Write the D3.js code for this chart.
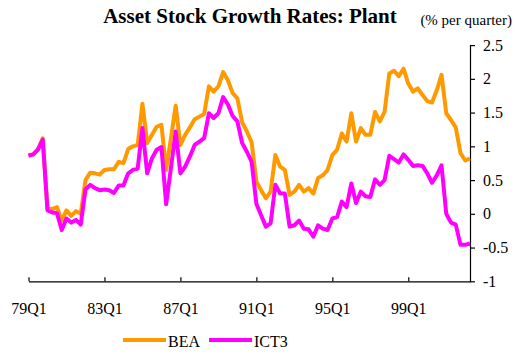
<!DOCTYPE html>
<html>
<head>
<meta charset="utf-8">
<script src="https://cdn.jsdelivr.net/npm/d3@7"></script>
<style>
  html, body { margin: 0; padding: 0; background: #fff; }
  svg text { font-family: "Liberation Serif", "Times New Roman", serif; fill: #000; }
</style>
</head>
<body>
<svg id="chart" width="520" height="358"></svg>
<script>
// Quarterly growth of the plant asset stock, 1979Q1 - 2002Q2 (% per quarter)
const quarters = [];
for (let yr = 1979; yr <= 2002; yr++) {
  for (let q = 1; q <= 4; q++) {
    if (yr === 2002 && q > 2) break;
    quarters.push(String(yr % 100).padStart(2, "0") + "Q" + q);
  }
}

const bea = [
  0.87, 0.88, 0.96, 1.12, 0.08, 0.07, 0.10, -0.10, 0.05, -0.03,
  0.04, 0.00, 0.50, 0.61, 0.60, 0.58, 0.65, 0.66, 0.66, 0.77,
  0.75, 0.96, 1.00, 1.02, 1.63, 1.05, 1.17, 1.29, 1.32, 0.65,
  1.12, 1.60, 1.02, 1.17, 1.28, 1.40, 1.44, 1.48, 1.89, 1.81,
  1.89, 2.10, 1.98, 1.79, 1.71, 1.36, 1.22, 1.06, 0.48, 0.35,
  0.23, 0.33, 0.87, 0.70, 0.65, 0.28, 0.33, 0.43, 0.33, 0.38,
  0.30, 0.53, 0.57, 0.65, 0.87, 0.95, 1.19, 1.07, 1.49, 1.07,
  1.27, 1.17, 1.17, 1.51, 1.37, 1.51, 2.08, 2.12, 2.04, 2.15,
  1.93, 1.81, 1.86, 1.76, 1.67, 1.65, 1.83, 2.06, 1.49, 1.39,
  1.28, 0.90, 0.79, 0.82
];

const ict3 = [
  0.86, 0.88, 0.95, 1.10, 0.05, 0.02, 0.01, -0.24, -0.07, -0.13,
  -0.09, -0.16, 0.36, 0.43, 0.38, 0.35, 0.36, 0.35, 0.31, 0.42,
  0.42, 0.60, 0.65, 0.67, 1.27, 0.60, 0.82, 0.95, 0.99, 0.14,
  0.68, 1.22, 0.60, 0.70, 0.85, 1.02, 1.07, 1.12, 1.49, 1.42,
  1.49, 1.73, 1.62, 1.45, 1.37, 1.05, 0.92, 0.77, 0.15, -0.02,
  -0.19, -0.14, 0.43, 0.30, 0.30, -0.19, -0.17, -0.10, -0.22, -0.23,
  -0.34, -0.17, -0.22, -0.24, -0.07, -0.05, 0.18, 0.10, 0.45, 0.16,
  0.33, 0.26, 0.25, 0.51, 0.43, 0.50, 0.86, 0.81, 0.76, 0.88,
  0.80, 0.71, 0.72, 0.71, 0.60, 0.46, 0.57, 0.72, 0.00, -0.13,
  -0.16, -0.46, -0.46, -0.44
];

const xTickLabels = ["79Q1", "83Q1", "87Q1", "91Q1", "95Q1", "99Q1"];
const yTicks = [-1, -0.5, 0, 0.5, 1, 1.5, 2, 2.5];

const seriesNames = ["BEA", "ICT3"];
const seriesColors = ["#FF9900", "#FF00FF"];

const svg = d3.select("#chart");

const x = d3.scaleLinear().domain([0, quarters.length - 1]).range([28.5, 470]);
const y = d3.scaleLinear().domain([-1, 2.5]).range([281.3, 45.1]);

// Title and unit note
svg.append("text")
  .attr("x", 250).attr("y", 23)
  .attr("text-anchor", "middle")
  .style("font-size", "21px").style("font-weight", "bold")
  .text("Asset Stock Growth Rates: Plant");

svg.append("text")
  .attr("x", 512).attr("y", 25)
  .attr("text-anchor", "end")
  .style("font-size", "15px")
  .text("(% per quarter)");

// Bottom axis: category ticks pointing up into the plot
const xAxis = d3.axisBottom(x)
  .tickValues(xTickLabels.map(l => quarters.indexOf(l)))
  .tickFormat(i => quarters[i])
  .tickSizeInner(-4)
  .tickSizeOuter(0);

const gx = svg.append("g")
  .attr("transform", "translate(0,281.3)")
  .call(xAxis);
gx.selectAll("text")
  .attr("y", 33).attr("dy", 0)
  .style("font-size", "16px");

// Right value axis
const yAxis = d3.axisRight(y)
  .tickValues(yTicks)
  .tickFormat(d => String(d))
  .tickSizeInner(5)
  .tickSizeOuter(0)
  .tickPadding(8);

const gy = svg.append("g")
  .attr("transform", "translate(470,0)")
  .call(yAxis);
gy.selectAll("text").style("font-size", "16px");

svg.selectAll(".domain, .tick line").attr("stroke", "#000").attr("stroke-width", 1.2);

// Series lines
const line = d3.line()
  .x((d, i) => x(i))
  .y(d => y(d));

[bea, ict3].forEach((vals, k) => {
  svg.append("path")
    .datum(vals)
    .attr("fill", "none")
    .attr("stroke", seriesColors[k])
    .attr("stroke-width", 4)
    .attr("stroke-linejoin", "round")
    .attr("d", line);
});

// Legend
const legendX = [123, 209];
seriesNames.forEach((name, k) => {
  const g = svg.append("g").attr("transform", `translate(${legendX[k]},340)`);
  g.append("line")
    .attr("x1", 0).attr("x2", 43)
    .attr("y1", 0).attr("y2", 0)
    .attr("stroke", seriesColors[k])
    .attr("stroke-width", 4);
  g.append("text")
    .attr("x", 45).attr("y", 7)
    .style("font-size", "16px")
    .text(name);
});
</script>
</body>
</html>
